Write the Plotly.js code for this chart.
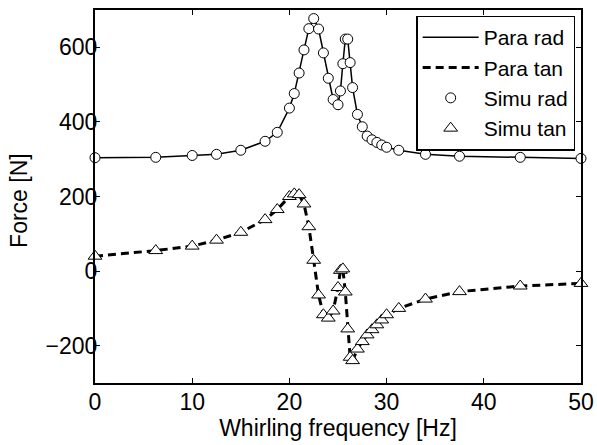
<!DOCTYPE html>
<html><head><meta charset="utf-8">
<script src="https://cdn.plot.ly/plotly-3.0.1.min.js"></script>
<style>html,body{margin:0;padding:0;background:#fff}#chart{width:597px;height:445px}</style>
</head><body><div id="chart"></div>
<script>
const freq = [0, 6.25, 10, 12.5, 15, 17.5, 18.75, 20, 20.5, 21, 21.5, 22, 22.5, 23, 23.5, 24, 24.5, 25, 25.25, 25.5, 25.75, 26, 26.25, 26.5, 27, 27.5, 28, 28.5, 29, 29.5, 30, 31.25, 34, 37.5, 43.75, 50];
const radial = [304, 305, 310, 313, 324, 348, 372, 437, 476, 531, 593, 650, 677, 649, 585, 517, 460, 446, 483, 556, 622, 622, 559, 492, 420, 387, 362, 352, 345, 338, 332, 324, 313, 308, 305, 302];
const tangential = [40, 55, 67, 83, 104, 138, 165, 200, 207, 205, 180, 119, 29, -64, -117, -126, -107, -44, 2, 6, -56, -155, -231, -240, -209, -189, -171, -157, -144, -131, -117, -100, -75, -55, -40, -33];
const seriesNames = ['Para rad', 'Para tan', 'Simu rad', 'Simu tan'];
const xTicks = [0, 10, 20, 30, 40, 50];
const yTicks = [-200, 0, 200, 400, 600];
const yTitle = 'Force [N]';

const font = {family: 'Liberation Sans, Arial, sans-serif', size: 23, color: '#000'};
const traces = [
  {x: freq, y: radial, name: seriesNames[0], mode: 'lines', line: {color: '#000', width: 1.5}},
  {x: freq, y: tangential, name: seriesNames[1], mode: 'lines', line: {color: '#000', width: 3, dash: '8px,5px'}},
  {x: freq, y: radial, name: seriesNames[2], mode: 'markers', cliponaxis: false,
   marker: {symbol: 'circle', size: 10, color: '#fff', line: {color: '#000', width: 1}}},
  {x: freq, y: tangential, name: seriesNames[3], mode: 'markers', cliponaxis: false,
   marker: {symbol: 'triangle-up', size: 12, color: '#fff', line: {color: '#000', width: 1}}}
];
const axisCommon = {showgrid: false, zeroline: false, showline: true, linecolor: '#000', linewidth: 2,
  mirror: 'ticks', ticks: 'inside', ticklen: 5, tickwidth: 1, tickcolor: '#000', tickfont: font};
const layout = {
  width: 597, height: 445,
  margin: {l: 95, r: 16, t: 10, b: 62},
  paper_bgcolor: '#fff', plot_bgcolor: '#fff',
  font: font,
  showlegend: true,
  legend: {x: 0.988, y: 0.985, xanchor: 'right', yanchor: 'top', bgcolor: '#fff', bordercolor: '#000', borderwidth: 1.5,
    font: {family: 'Liberation Sans, Arial, sans-serif', size: 21, color: '#000'}, tracegroupgap: 0, itemwidth: 56},
  xaxis: Object.assign({}, axisCommon, {range: [0, 50], tickvals: xTicks, ticklabelstandoff: -3,
    title: {text: 'Whirling frequency [Hz]', font: font, standoff: 0}}),
  yaxis: Object.assign({}, axisCommon, {range: [-300, 700], tickvals: yTicks, ticklabelstandoff: -9,
    ticktext: yTicks.map(v => v < 0 ? '\u2212' + Math.abs(v) : String(v))}),
  annotations: [{text: yTitle, xref: 'paper', yref: 'paper', x: -0.155, y: 0.49, xanchor: 'center', yanchor: 'middle',
    textangle: -90, showarrow: false, font: font}]
};
Plotly.newPlot('chart', traces, layout, {displayModeBar: false, staticPlot: true});
</script></body></html>
